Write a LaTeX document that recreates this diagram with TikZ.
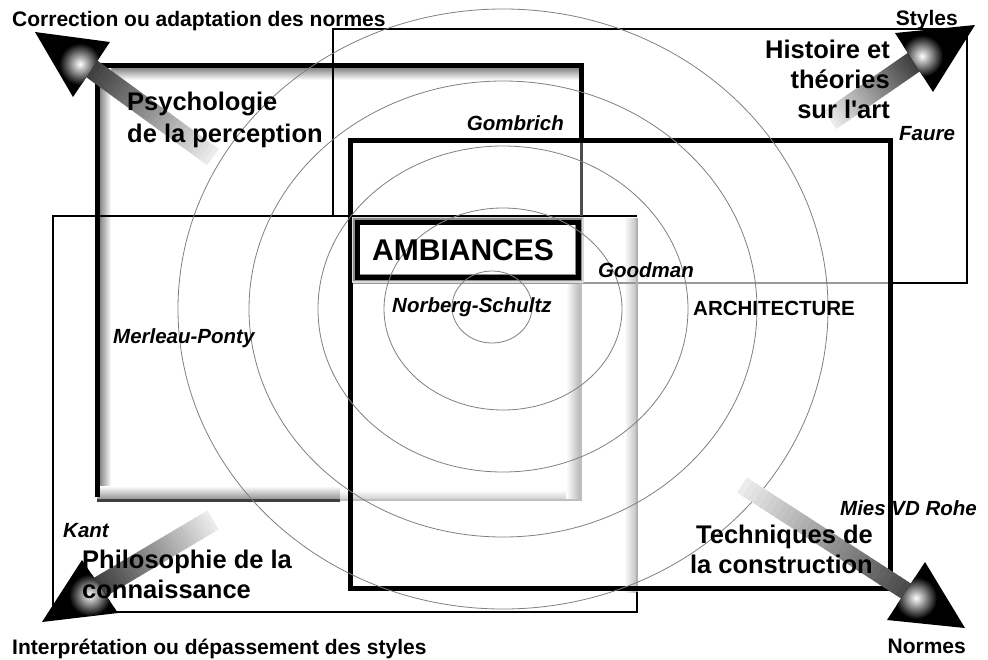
\documentclass[tikz,border=0pt]{standalone}
\usepackage{fontspec}
\setmainfont{Liberation Sans}
\usetikzlibrary{calc}
\newcommand{\shaftgrad}[4]{%
  \foreach \i in {0,...,29}{%
    \pgfmathsetmacro\ta{\i/30}%
    \pgfmathsetmacro\tb{(\i+1.1)/30}%
    \pgfmathsetmacro\tc{8+(#4-8)*\i/29}%
    \draw[line width=#3, draw=black!\tc] ($(#1)!\ta!(#2)$) -- ($(#1)!\tb!(#2)$);
  }}
\newcommand{\arrowhead}[4]{%
  \fill[black] (#1) -- (#2) -- (#3) -- cycle;
  \begin{scope}
    \clip (#1) -- (#2) -- (#3) -- cycle;
    \shade[inner color=white, outer color=black] (#4) circle (21pt);
  \end{scope}}
\begin{document}
\begin{tikzpicture}[x=1pt,y=-1pt,
  lab/.style={inner sep=0pt, font=\fontsize{21}{25}\selectfont\bfseries},
  ital/.style={inner sep=0pt, font=\fontsize{20.5}{25}\selectfont\bfseries\itshape},
  big/.style={inner sep=0pt, font=\fontsize{25.5}{30}\selectfont\bfseries},
  ring/.style={draw=black!50, line width=0.8pt},
  heavy/.style={draw=black, line width=5pt},
  medium/.style={draw=black, line width=2.2pt},
  faint/.style={draw=black!30, line width=2pt},
]
\useasboundingbox (0,0) rectangle (988,659);
\fill[white] (0,0) rectangle (988,659);

% inner shadows of the perception frame
\shade[top color=black!55, bottom color=white] (97,66) rectangle (581,80);
\shade[left color=black!55, right color=white] (98,65) rectangle (111,500);
\shade[top color=white, bottom color=black!45] (97,486) rectangle (340,500);
\shade[top color=white, bottom color=black!20] (340,490) rectangle (581,500);
\shade[left color=white, right color=black!30] (566,283) rectangle (581,500);
\shade[left color=white, right color=black!25] (624,218) rectangle (637,592);

% history frame
\draw[medium] (333,215) -- (333,29) -- (967,29) -- (967,283) -- (890,283);
\draw[draw=black!40, line width=2pt] (890,283) -- (350,283);
% philosophy frame
\draw[draw=black, line width=2pt] (637,592) -- (637,612) -- (53,612) -- (53,216) -- (637,216);
\draw[faint] (637,218) -- (637,592);
% perception frame
\draw[heavy] (97,497) -- (97,65) -- (581,65) -- (581,140);
\draw[draw=black!70, line width=3pt] (581,140) -- (581,216);
\draw[draw=black!75, line width=3pt] (97,500) -- (340,500);
\draw[draw=black!25, line width=2pt] (340,500) -- (581,500) -- (581,283);
% architecture frame
\draw[heavy] (350,140) rectangle (890,588);
% ambiances box
\draw[draw=black!15, line width=11pt] (357,222) rectangle (578,277);
\draw[draw=black!45, line width=8pt] (357,222) rectangle (578,277);
\draw[draw=black, line width=5pt] (357,222) rectangle (578,277);
\fill[white] (360,225) rectangle (575,274);

% concentric rings
\coordinate (cen) at (503,309);
\coordinate (cen0) at (492,307);
\draw[ring] (cen0) ellipse [x radius=40pt, y radius=36pt];
\draw[ring] (cen) ellipse [x radius=119pt, y radius=101pt];
\draw[ring] (cen) ellipse [x radius=185pt, y radius=163pt];
\draw[ring] (cen) ellipse [x radius=254pt, y radius=228pt];
\draw[ring] (cen) ellipse [x radius=325pt, y radius=300pt];

% arrows
\coordinate (tlS) at (213,157); \coordinate (tlB) at (92,69); \coordinate (tlT) at (35,32);
\coordinate (tlC1) at (110,42); \coordinate (tlC2) at (73,97); \coordinate (tlH) at (80,64);
\shaftgrad{tlS}{tlB}{20pt}{75}
\arrowhead{tlT}{tlC1}{tlC2}{tlH}

\coordinate (trS) at (830,120); \coordinate (trB) at (914,62); \coordinate (trT) at (975,25);
\coordinate (trC1) at (895,33); \coordinate (trC2) at (933,92); \coordinate (trH) at (922,56);
\shaftgrad{trS}{trB}{22pt}{75}
\arrowhead{trT}{trC1}{trC2}{trH}

\coordinate (blS) at (213,520); \coordinate (blB) at (100,587); \coordinate (blT) at (42,622);
\coordinate (blC1) at (118,613); \coordinate (blC2) at (82,560); \coordinate (blH) at (90,595);
\shaftgrad{blS}{blB}{22pt}{75}
\arrowhead{blT}{blC1}{blC2}{blH}

\coordinate (brS) at (742,485); \coordinate (brB) at (906,591); \coordinate (brT) at (965,628);
\coordinate (brC1) at (925,562); \coordinate (brC2) at (887,620); \coordinate (brH) at (916,598);
\shaftgrad{brS}{brB}{18pt}{70}
\arrowhead{brT}{brC1}{brC2}{brH}

% corner labels
\node[lab, anchor=base west] (tl) at (12,26) {Correction ou adaptation des normes};
\node[lab, anchor=base east] (tr) at (958,25) {Styles};
\node[lab, anchor=base west] (bl) at (12,654) {Interprétation ou dépassement des styles};
\node[lab, anchor=base east] (br) at (966,653) {Normes};

% field labels
\node[big, anchor=base west] (psy1) at (127,110) {Psychologie};
\node[big, anchor=base west] (psy2) at (127,142) {de la perception};
\node[big, anchor=base east] (his1) at (890,58) {Histoire et};
\node[big, anchor=base east] (his2) at (890,88) {théories};
\node[big, anchor=base east] (his3) at (890,118) {sur l\textquotesingle art};
\node[big, anchor=base west] (phi1) at (82,568) {Philosophie de la};
\node[big, anchor=base west] (phi2) at (82,598) {connaissance};
\node[big, anchor=base east] (tec1) at (873,543) {Techniques de};
\node[big, anchor=base east] (tec2) at (873,573) {la construction};
\node[inner sep=0pt, font=\fontsize{30}{36}\selectfont\bfseries, anchor=base west] (amb) at (372,260) {AMBIANCES};
\node[inner sep=0pt, font=\fontsize{20.5}{25}\selectfont\bfseries, anchor=base west] (arch) at (693,315) {ARCHITECTURE};

% authors
\node[ital, anchor=base east] (gom) at (564,130) {Gombrich};
\node[ital, anchor=base west] (fau) at (899,140) {Faure};
\node[ital, anchor=base west] (goo) at (598,277) {Goodman};
\node[ital, anchor=base west] (nor) at (392,312) {Norberg-Schultz};
\node[ital, anchor=base west] (mer) at (113,343) {Merleau-Ponty};
\node[ital, anchor=base west] (kan) at (63,537) {Kant};
\node[ital, anchor=base west] (mie) at (840,515) {Mies VD Rohe};
\end{tikzpicture}
\end{document}
